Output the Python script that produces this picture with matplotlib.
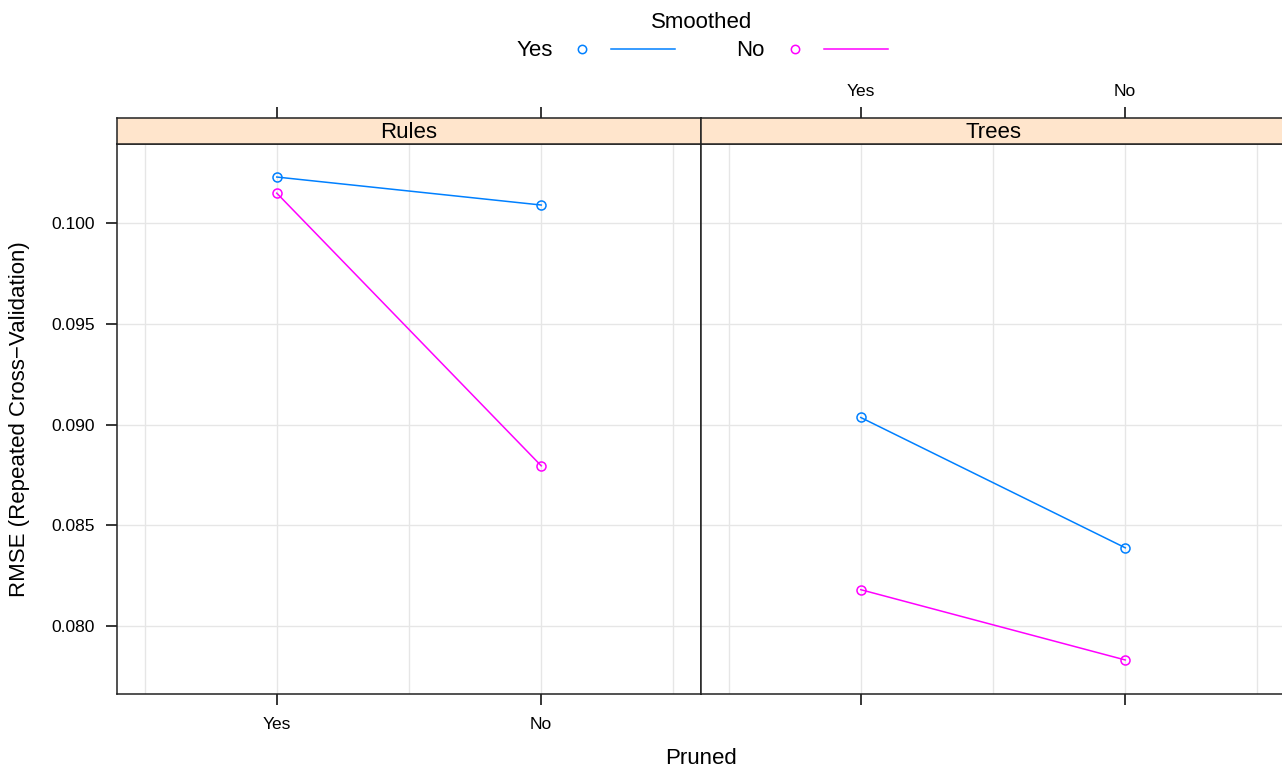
import numpy as np
import matplotlib.pyplot as plt
from matplotlib.lines import Line2D

plt.rcParams['font.family'] = ['Liberation Sans', 'DejaVu Sans']

# RMSE by pruning, split by model type and smoothing
pruned = ['Yes', 'No']
panels = ['Rules', 'Trees']
rules_smoothed_yes = [0.10229, 0.10090]
rules_smoothed_no = [0.10149, 0.08795]
trees_smoothed_yes = [0.09035, 0.08388]
trees_smoothed_no = [0.08180, 0.07831]
yticks = [0.080, 0.085, 0.090, 0.095, 0.100]

blue = '#0080ff'
magenta = '#ff00ff'
strip_col = '#ffe5cc'
grid_col = '#e6e6e6'

W, H = 1282, 768
fig = plt.figure(figsize=(W / 100, H / 100), dpi=100)


def box(x0, y0, x1, y1):
    return [x0 / W, 1 - y1 / H, (x1 - x0) / W, (y1 - y0) / H]


series = {
    'Rules': (rules_smoothed_yes, rules_smoothed_no),
    'Trees': (trees_smoothed_yes, trees_smoothed_no),
}

x = np.arange(1, len(pruned) + 1)
xlim = (0.396, 2.604)
ylim = (0.07662, 0.10393)
panel_w = 584

for i, name in enumerate(panels):
    left = 117 + i * panel_w
    ax = fig.add_axes(box(left, 144, left + panel_w, 694))
    strip = fig.add_axes(box(left, 118, left + panel_w, 144))

    ax.set_xlim(*xlim)
    ax.set_ylim(*ylim)
    for g in [0.5, 1, 1.5, 2, 2.5]:
        ax.axvline(g, color=grid_col, lw=1, zorder=0)
    for g in yticks:
        ax.axhline(g, color=grid_col, lw=1, zorder=0)

    yes, no = series[name]
    ax.plot(x, yes, '-o', color=blue, lw=1.1, ms=6.5, mfc='none', mew=1.1)
    ax.plot(x, no, '-o', color=magenta, lw=1.1, ms=6.5, mfc='none', mew=1.1)

    for s in ax.spines.values():
        s.set_linewidth(1.1)
        s.set_color('#222222')

    ax.set_xticks(x)
    ax.tick_params(axis='x', direction='out', length=8, width=1.1,
                   labelsize=12.5, pad=8.5, top=False)
    if i == 0:
        ax.set_xticklabels(pruned)
        ax.set_yticks(yticks)
        ax.set_yticklabels([f'{v:.3f}' for v in yticks])
        ax.tick_params(axis='y', direction='out', length=8, width=1.1,
                       labelsize=12.5, pad=8)
    else:
        ax.set_xticklabels([])
        ax.set_yticks([])

    # strip with panel name, top ticks drawn above it
    strip.set_facecolor(strip_col)
    strip.set_xlim(*xlim)
    strip.set_ylim(0, 1)
    strip.set_yticks([])
    strip.set_xticks(x)
    strip.xaxis.set_ticks_position('top')
    strip.tick_params(axis='x', direction='out', length=8, width=1.1,
                      labelsize=12.5, pad=6)
    if i == 1:
        strip.set_xticklabels(pruned)
    else:
        strip.set_xticklabels([])
    for s in strip.spines.values():
        s.set_linewidth(1.1)
        s.set_color('#222222')
    strip.text(0.5, 0.45, name, transform=strip.transAxes, ha='center',
               va='center', fontsize=16)

fig.text(20 / W, 1 - 419 / H, 'RMSE (Repeated Cross\u2212Validation)', rotation=90,
         ha='center', va='center', fontsize=16)
fig.text(701 / W, 1 - 759 / H, 'Pruned', ha='center', va='center', fontsize=16)

# legend: Smoothed Yes / No
fig.text(702 / W, 1 - 22 / H, 'Smoothed', ha='center', va='center', fontsize=16)
leg = fig.add_axes([0, 0, 1, 1], facecolor='none')
leg.set_xlim(0, W)
leg.set_ylim(H, 0)
leg.axis('off')
for label, col, tx, px, l0 in [('Yes', blue, 535, 582, 611), ('No', magenta, 750, 795, 824)]:
    leg.text(tx, 50, label, ha='center', va='center', fontsize=16)
    leg.add_line(Line2D([px], [49], marker='o', ms=6, mfc='none', mec=col, mew=1.1, ls='none'))
    leg.add_line(Line2D([l0, l0 + 64], [49, 49], color=col, lw=1.1))

fig.savefig('out.png', dpi=100)
